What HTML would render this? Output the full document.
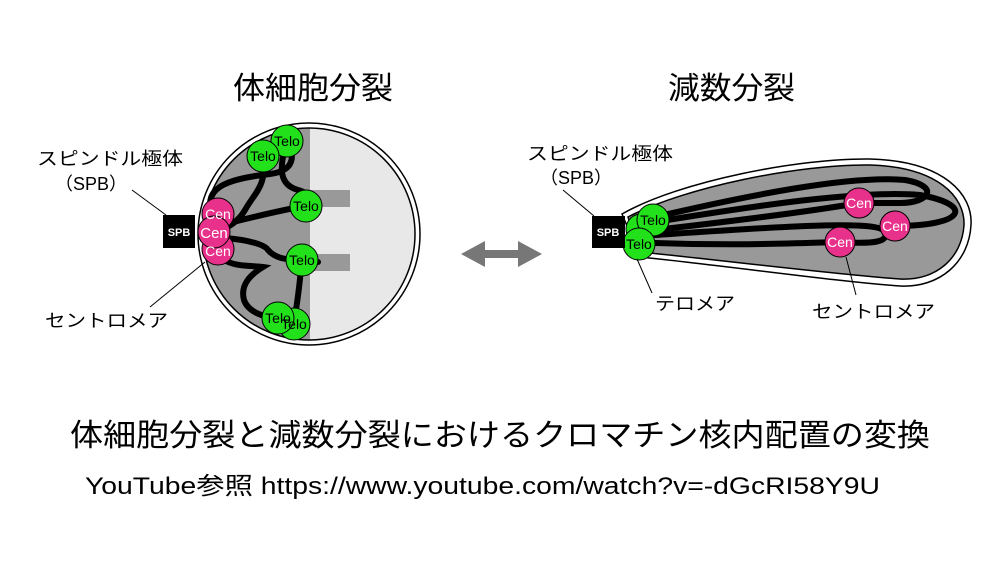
<!DOCTYPE html>
<html><head><meta charset="utf-8"><style>html,body{margin:0;padding:0;background:#fff}svg{display:block}</style></head>
<body>
<svg width="1000" height="575" viewBox="0 0 1000 575" xmlns="http://www.w3.org/2000/svg" font-family="'Liberation Sans','Noto Sans CJK JP',sans-serif">
<rect width="1000" height="575" fill="#fff"/>
<text x="233" y="99" font-size="31" textLength="160" lengthAdjust="spacingAndGlyphs">体細胞分裂</text>
<text x="668" y="99" font-size="31" textLength="127" lengthAdjust="spacingAndGlyphs">減数分裂</text>

<!-- Left cell -->
<circle cx="309" cy="234" r="111" fill="#fff" stroke="#000" stroke-width="1.5"/>
<clipPath id="c1"><circle cx="309" cy="234" r="106"/></clipPath>
<g clip-path="url(#c1)">
<rect x="190" y="120" width="120" height="230" fill="#999"/>
<rect x="310" y="120" width="120" height="230" fill="#e8e8e8"/>
</g>
<circle cx="309" cy="234" r="106" fill="none" stroke="#000" stroke-width="1.5"/>
<rect x="310" y="190" width="40" height="17" fill="#999"/>
<rect x="310" y="254" width="40" height="17" fill="#999"/>
<g fill="none" stroke="#000" stroke-width="6" stroke-linecap="round">
<path d="M213,215 C200,185 235,178 270,174 C300,170 292,150 287,141"/>
<path d="M287,141 C278,170 280,185 298,190 C310,193 310,200 306,206"/>
<path d="M262,157 C268,185 255,192 245,210 C238,222 228,228 215,232"/>
<path d="M225,224 C250,218 280,210 306,206"/>
<path d="M225,238 C250,240 265,245 268,250 C275,258 285,260 302,260 L318,262"/>
<path d="M218,255 C230,268 250,265 263,267 C250,275 240,285 244,300 C248,312 265,318 278,318"/>
<path d="M302,260 C300,280 298,300 295,315"/>
</g>
<g stroke="#000" stroke-width="1">
<circle cx="218" cy="214" r="16" fill="#e8318a"/>
<circle cx="218" cy="249" r="16" fill="#e8318a"/>
<circle cx="214" cy="232" r="16" fill="#e8318a"/>
<circle cx="287" cy="141" r="16" fill="#22e01a"/>
<circle cx="263" cy="156" r="16" fill="#22e01a"/>
<circle cx="306" cy="206" r="16" fill="#22e01a"/>
<circle cx="302" cy="260" r="16" fill="#22e01a"/>
<circle cx="294" cy="324" r="16" fill="#22e01a"/>
<circle cx="278" cy="318" r="16" fill="#22e01a"/>
</g>
<g font-size="14" text-anchor="middle">
<text x="218" y="219" fill="#fff">Cen</text>
<text x="218" y="256" fill="#fff">Cen</text>
<text x="214" y="238" fill="#fff" font-size="15">Cen</text>
<text x="287" y="146">Telo</text>
<text x="263" y="161">Telo</text>
<text x="306" y="211">Telo</text>
<text x="302" y="265">Telo</text>
<text x="294" y="329">Telo</text>
<text x="278" y="323">Telo</text>
</g>
<rect x="163" y="215" width="32" height="33" fill="#000"/>
<text x="179" y="236" font-size="11" font-weight="bold" fill="#fff" text-anchor="middle">SPB</text>
<line x1="166" y1="215" x2="132" y2="190" stroke="#000" stroke-width="1"/>
<line x1="205" y1="262" x2="150" y2="307" stroke="#000" stroke-width="1"/>
<text x="37" y="165" font-size="18" textLength="146" lengthAdjust="spacingAndGlyphs">スピンドル極体</text>
<text x="55" y="190" font-size="18">（SPB）</text>
<text x="45" y="327" font-size="18" textLength="123" lengthAdjust="spacingAndGlyphs">セントロメア</text>

<!-- Arrow -->
<polygon points="461,254 485,241 485,250 518,250 518,241 542,254 518,267 518,258 485,258 485,267" fill="#777"/>

<!-- Right cell -->
<path d="M622,214 C680,181 800,158 870,159 C945,161 973,195 971,225 C969,262 940,288 900,286 C840,282 720,265 640,257 Z" fill="#fff" stroke="#000" stroke-width="1.5"/>
<path d="M628,217 C685,187 800,164 870,165 C938,167 965,197 964,225 C962,258 936,281 900,279 C840,275 720,260 640,252 Z" fill="#999" stroke="#000" stroke-width="1.5"/>
<g fill="none" stroke="#000" stroke-width="6" stroke-linecap="round">
<path d="M655,217 C750,195 850,175 905,180 C940,186 930,203 900,203 L859,203"/>
<path d="M655,222 C760,205 860,190 920,195 C975,205 965,226 895,226"/>
<path d="M655,230 C760,218 830,208 859,203"/>
<path d="M655,235 C760,228 870,220 883,230 C893,243 870,244 840,242"/>
<path d="M655,243 C740,246 800,243 840,242"/>
</g>
<g stroke="#000" stroke-width="1">
<circle cx="641" cy="229" r="15" fill="#22e01a"/>
<circle cx="653" cy="220" r="16" fill="#22e01a"/>
<circle cx="639" cy="244" r="16" fill="#22e01a"/>
<circle cx="859" cy="203" r="15" fill="#e8318a"/>
<circle cx="895" cy="226" r="15" fill="#e8318a"/>
<circle cx="840" cy="242" r="15" fill="#e8318a"/>
</g>
<g font-size="14" text-anchor="middle">
<text x="653" y="225">Telo</text>
<text x="639" y="249">Telo</text>
<text x="859" y="208" fill="#fff">Cen</text>
<text x="895" y="231" fill="#fff">Cen</text>
<text x="840" y="247" fill="#fff">Cen</text>
</g>
<rect x="592" y="216" width="33" height="32" fill="#000"/>
<text x="608" y="236" font-size="11" font-weight="bold" fill="#fff" text-anchor="middle">SPB</text>
<line x1="594" y1="216" x2="563" y2="190" stroke="#000" stroke-width="1"/>
<line x1="637" y1="259" x2="652" y2="293" stroke="#000" stroke-width="1"/>
<line x1="846" y1="257" x2="856" y2="295" stroke="#000" stroke-width="1"/>
<text x="527" y="160" font-size="18" textLength="146" lengthAdjust="spacingAndGlyphs">スピンドル極体</text>
<text x="540" y="184" font-size="18">（SPB）</text>
<text x="655" y="310" font-size="18" textLength="80" lengthAdjust="spacingAndGlyphs">テロメア</text>
<text x="812" y="318" font-size="18" textLength="123" lengthAdjust="spacingAndGlyphs">セントロメア</text>

<text x="70" y="446" font-size="31" textLength="860" lengthAdjust="spacingAndGlyphs">体細胞分裂と減数分裂におけるクロマチン核内配置の変換</text>
<text x="85" y="494" font-size="24" textLength="795" lengthAdjust="spacingAndGlyphs">YouTube参照 https://www.youtube.com/watch?v=-dGcRI58Y9U</text>
</svg>
</body></html>
